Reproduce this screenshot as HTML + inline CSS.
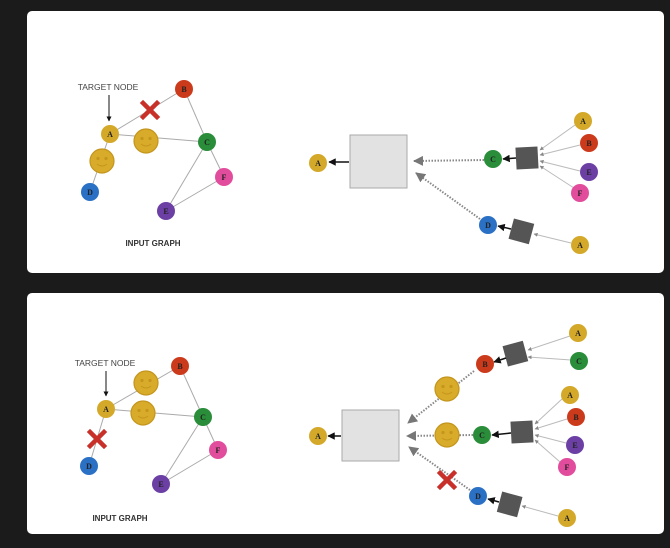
<!DOCTYPE html>
<html><head><meta charset="utf-8"><style>
html,body{margin:0;padding:0;background:#1b1b1b;}
svg{display:block;}
.n text{font-family:"Liberation Serif",serif;font-weight:bold;font-size:8px;fill:#222;text-anchor:middle;}
.lbl{font-family:"Liberation Sans",sans-serif;font-size:8.5px;fill:#444;text-anchor:middle;}
.ttl{font-family:"Liberation Sans",sans-serif;font-size:8px;font-weight:bold;fill:#333;text-anchor:middle;}
.e{stroke:#aaa;stroke-width:1;fill:none}
.d{stroke:#888;stroke-width:2;stroke-dasharray:1.5 1.5;fill:none}
.g{stroke:#bbb;stroke-width:1;fill:none}
</style></head><body>
<svg width="670" height="548" viewBox="0 0 670 548" xmlns="http://www.w3.org/2000/svg">
<defs>
<marker id="ab" viewBox="0 0 10 10" refX="9" refY="5" markerWidth="5" markerHeight="5" orient="auto"><path d="M0,0L10,5L0,10z" fill="#111"/></marker>
<marker id="ag" viewBox="0 0 10 10" refX="9" refY="5" markerWidth="5" markerHeight="5" orient="auto"><path d="M0,0L10,5L0,10z" fill="#777"/></marker>
<marker id="as" viewBox="0 0 10 10" refX="9" refY="5" markerWidth="4" markerHeight="4" orient="auto"><path d="M0,0L10,5L0,10z" fill="#888"/></marker>
<g id="sm"><circle r="12" fill="#d9ab2a" stroke="#c4951c" stroke-width="1.2"/><circle cx="-4" cy="-2.5" r="1.6" fill="#c4951c"/><circle cx="4" cy="-2.5" r="1.6" fill="#c4951c"/><path d="M-5,3 Q0,7 5,3" stroke="#c4951c" stroke-width="1" fill="none"/></g>
<g id="x"><path d="M-7,-7L7,7M7,-7L-7,7" stroke="#c8302a" stroke-width="4.5" stroke-linecap="square"/></g>
</defs>
<rect x="27" y="11" width="637" height="262" rx="5" fill="#fff"/>
<rect x="27" y="293" width="637" height="241" rx="5" fill="#fff"/>

<!-- TOP LEFT -->
<g>
<line class="e" x1="110" y1="134" x2="184" y2="89"/>
<line class="e" x1="110" y1="134" x2="207" y2="142"/>
<line class="e" x1="184" y1="89" x2="207" y2="142"/>
<line class="e" x1="110" y1="134" x2="90" y2="192"/>
<line class="e" x1="207" y1="142" x2="166" y2="211"/>
<line class="e" x1="207" y1="142" x2="224" y2="177"/>
<line class="e" x1="224" y1="177" x2="166" y2="211"/>
<use href="#x" x="150" y="110"/>
<use href="#sm" x="146" y="141"/>
<use href="#sm" x="102" y="161"/>
<text class="lbl" x="108" y="90">TARGET NODE</text>
<line x1="109" y1="95" x2="109" y2="121" stroke="#111" stroke-width="1" marker-end="url(#ab)"/>
<text class="ttl" x="153" y="246">INPUT GRAPH</text>
</g>
<g class="n">
<circle cx="110" cy="134" r="9" fill="#d4a92a"/><text x="110" y="137">A</text>
<circle cx="184" cy="89" r="9" fill="#cc3a1c"/><text x="184" y="92">B</text>
<circle cx="207" cy="142" r="9" fill="#2a8d3a"/><text x="207" y="145">C</text>
<circle cx="90" cy="192" r="9" fill="#2a70c4"/><text x="90" y="195">D</text>
<circle cx="166" cy="211" r="9" fill="#6b3fa3"/><text x="166" y="214">E</text>
<circle cx="224" cy="177" r="9" fill="#e24c9c"/><text x="224" y="180">F</text>
</g>

<!-- TOP RIGHT -->
<rect x="350" y="135" width="57" height="53" fill="#e2e2e2" stroke="#aaa"/>
<line x1="349" y1="162" x2="329" y2="162" stroke="#111" stroke-width="1.5" marker-end="url(#ab)"/>
<line class="d" x1="484" y1="160" x2="414" y2="161" marker-end="url(#ag)"/>
<line class="d" x1="480" y1="219" x2="416" y2="173" marker-end="url(#ag)"/>
<rect x="516" y="147" width="22" height="22" fill="#555" transform="rotate(-3 527 158)"/>
<line x1="516" y1="158" x2="503" y2="159" stroke="#111" stroke-width="1.5" marker-end="url(#ab)"/>
<line class="g" x1="575" y1="125" x2="540" y2="150" marker-end="url(#as)"/>
<line class="g" x1="580" y1="145" x2="540" y2="155" marker-end="url(#as)"/>
<line class="g" x1="580" y1="171" x2="540" y2="161" marker-end="url(#as)"/>
<line class="g" x1="574" y1="188" x2="540" y2="166" marker-end="url(#as)"/>
<rect x="511" y="221" width="21" height="21" fill="#555" transform="rotate(15 522 231)"/>
<line x1="511" y1="229" x2="498" y2="226" stroke="#111" stroke-width="1.5" marker-end="url(#ab)"/>
<line class="g" x1="571" y1="243" x2="534" y2="234" marker-end="url(#as)"/>
<g class="n">
<circle cx="318" cy="163" r="9" fill="#d4a92a"/><text x="318" y="166">A</text>
<circle cx="493" cy="159" r="9" fill="#2a8d3a"/><text x="493" y="162">C</text>
<circle cx="583" cy="121" r="9" fill="#d4a92a"/><text x="583" y="124">A</text>
<circle cx="589" cy="143" r="9" fill="#cc3a1c"/><text x="589" y="146">B</text>
<circle cx="589" cy="172" r="9" fill="#6b3fa3"/><text x="589" y="175">E</text>
<circle cx="580" cy="193" r="9" fill="#e24c9c"/><text x="580" y="196">F</text>
<circle cx="488" cy="225" r="9" fill="#2a70c4"/><text x="488" y="228">D</text>
<circle cx="580" cy="245" r="9" fill="#d4a92a"/><text x="580" y="248">A</text>
</g>

<!-- BOTTOM LEFT -->
<g>
<line class="e" x1="106" y1="409" x2="180" y2="366"/>
<line class="e" x1="106" y1="409" x2="203" y2="417"/>
<line class="e" x1="180" y1="366" x2="203" y2="417"/>
<line class="e" x1="106" y1="409" x2="89" y2="466"/>
<line class="e" x1="203" y1="417" x2="161" y2="484"/>
<line class="e" x1="203" y1="417" x2="218" y2="450"/>
<line class="e" x1="218" y1="450" x2="161" y2="484"/>
<use href="#sm" x="146" y="383"/>
<use href="#sm" x="143" y="413"/>
<use href="#x" x="97" y="439"/>
<text class="lbl" x="105" y="366">TARGET NODE</text>
<line x1="106" y1="371" x2="106" y2="396" stroke="#111" stroke-width="1" marker-end="url(#ab)"/>
<text class="ttl" x="120" y="521">INPUT GRAPH</text>
</g>
<g class="n">
<circle cx="106" cy="409" r="9" fill="#d4a92a"/><text x="106" y="412">A</text>
<circle cx="180" cy="366" r="9" fill="#cc3a1c"/><text x="180" y="369">B</text>
<circle cx="203" cy="417" r="9" fill="#2a8d3a"/><text x="203" y="420">C</text>
<circle cx="89" cy="466" r="9" fill="#2a70c4"/><text x="89" y="469">D</text>
<circle cx="161" cy="484" r="9" fill="#6b3fa3"/><text x="161" y="487">E</text>
<circle cx="218" cy="450" r="9" fill="#e24c9c"/><text x="218" y="453">F</text>
</g>

<!-- BOTTOM RIGHT -->
<rect x="342" y="410" width="57" height="51" fill="#e2e2e2" stroke="#aaa"/>
<line x1="341" y1="436" x2="328" y2="436" stroke="#111" stroke-width="1.5" marker-end="url(#ab)"/>
<line class="d" x1="474" y1="371" x2="408" y2="423" marker-end="url(#ag)"/>
<line class="d" x1="473" y1="435" x2="407" y2="436" marker-end="url(#ag)"/>
<line class="d" x1="470" y1="490" x2="409" y2="447" marker-end="url(#ag)"/>
<use href="#sm" x="447" y="389"/>
<use href="#sm" x="447" y="435"/>
<use href="#x" x="447" y="480"/>
<rect x="505" y="343" width="21" height="21" fill="#555" transform="rotate(-15 516 354)"/>
<line x1="506" y1="358" x2="494" y2="362" stroke="#111" stroke-width="1.5" marker-end="url(#ab)"/>
<line class="g" x1="570" y1="336" x2="528" y2="350" marker-end="url(#as)"/>
<line class="g" x1="571" y1="360" x2="528" y2="357" marker-end="url(#as)"/>
<rect x="511" y="421" width="22" height="22" fill="#555" transform="rotate(-3 522 432)"/>
<line x1="511" y1="433" x2="492" y2="435" stroke="#111" stroke-width="1.5" marker-end="url(#ab)"/>
<line class="g" x1="562" y1="399" x2="535" y2="424" marker-end="url(#as)"/>
<line class="g" x1="567" y1="419" x2="535" y2="429" marker-end="url(#as)"/>
<line class="g" x1="566" y1="443" x2="535" y2="435" marker-end="url(#as)"/>
<line class="g" x1="560" y1="462" x2="535" y2="440" marker-end="url(#as)"/>
<rect x="499" y="494" width="21" height="21" fill="#555" transform="rotate(15 510 505)"/>
<line x1="499" y1="502" x2="488" y2="499" stroke="#111" stroke-width="1.5" marker-end="url(#ab)"/>
<line class="g" x1="558" y1="516" x2="522" y2="506" marker-end="url(#as)"/>
<g class="n">
<circle cx="318" cy="436" r="9" fill="#d4a92a"/><text x="318" y="439">A</text>
<circle cx="485" cy="364" r="9" fill="#cc3a1c"/><text x="485" y="367">B</text>
<circle cx="578" cy="333" r="9" fill="#d4a92a"/><text x="578" y="336">A</text>
<circle cx="579" cy="361" r="9" fill="#2a8d3a"/><text x="579" y="364">C</text>
<circle cx="482" cy="435" r="9" fill="#2a8d3a"/><text x="482" y="438">C</text>
<circle cx="570" cy="395" r="9" fill="#d4a92a"/><text x="570" y="398">A</text>
<circle cx="576" cy="417" r="9" fill="#cc3a1c"/><text x="576" y="420">B</text>
<circle cx="575" cy="445" r="9" fill="#6b3fa3"/><text x="575" y="448">E</text>
<circle cx="567" cy="467" r="9" fill="#e24c9c"/><text x="567" y="470">F</text>
<circle cx="478" cy="496" r="9" fill="#2a70c4"/><text x="478" y="499">D</text>
<circle cx="567" cy="518" r="9" fill="#d4a92a"/><text x="567" y="521">A</text>
</g>
</svg>
</body></html>
